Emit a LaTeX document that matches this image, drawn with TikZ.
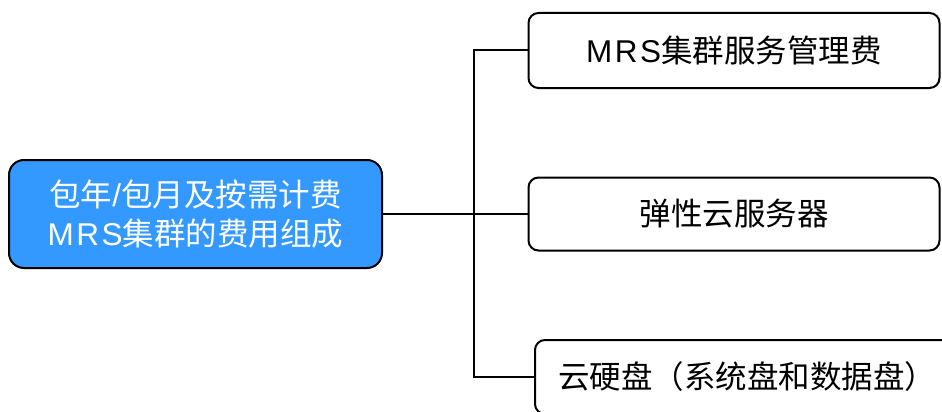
\documentclass[tikz,border=0pt]{standalone}
\usepackage{fontspec}
\newfontfamily\cjk{Noto Sans CJK SC}
\newfontfamily\lat[LetterSpace=8]{Liberation Sans}
\definecolor{rootblue}{RGB}{51,153,255}
\begin{document}
\begin{tikzpicture}[x=1pt,y=-1pt,
  rootbox/.style={draw=black, line width=2pt, fill=rootblue, rounded corners=15pt,
    minimum width=373pt, minimum height=108pt, align=center, text=white,
    font=\cjk\fontsize{31.5}{39}\selectfont, inner sep=0pt},
  leafbox/.style={draw=black, line width=2pt, fill=white, rounded corners=10pt,
    minimum height=74pt, inner sep=0pt, text=black,
    font=\cjk\fontsize{31.5}{38}\selectfont},
  link/.style={draw=black, line width=2pt}]
\useasboundingbox (0,0) rectangle (942,412);
\clip (0,0) rectangle (942,412);
\fill[white] (0,0) rectangle (942,412);
\node[rootbox] (L) at (195.5,214) {包年{\lat/}包月及按需计费\\{\lat MRS}集群的费用组成};
\node[leafbox, minimum width=411pt, minimum height=75pt] (A) at (734,50.5) {{\lat MRS}集群服务管理费};
\node[leafbox, minimum width=411pt, minimum height=73pt] (B) at (734,214) {弹性云服务器};
\node[leafbox, minimum width=424pt] (C) at (747,377) {云硬盘（系统盘和数据盘）};
\coordinate (J) at (474,214);
\draw[link] (L.east) -- (B.west);
\draw[link] (J) |- (A.west);
\draw[link] (J) |- (C.west);
\end{tikzpicture}
\end{document}
